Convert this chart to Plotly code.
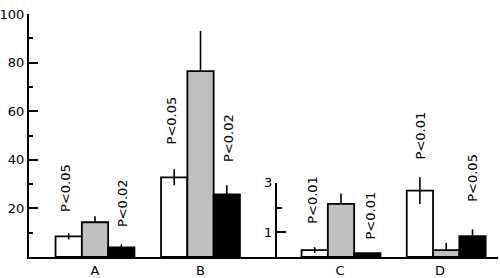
import plotly.graph_objects as go

# ---- data ----
categories = ["A", "B", "C", "D"]
white = [8.5, 32.8, 0.28, 2.69]
white_err = [1.3, 3.3, 0.12, 0.54]
gray = [14.3, 76.5, 2.15, 0.28]
gray_err = [2.5, 16.5, 0.42, 0.29]
black = [4.0, 25.8, 0.16, 0.84]
black_err = [1.2, 3.7, 0.0, 0.28]

p_text = ["P<0.05", "P<0.02", "P<0.05", "P<0.02", "P<0.01", "P<0.01", "P<0.01", "P<0.05"]
p_cat = ["A", "A", "B", "B", "C", "C", "D", "D"]
p_series = ["white", "black", "white", "black", "white", "black", "white", "black"]
p_y = [28.3, 22.3, 56.3, 48.9, 23.4, 17.2, 50.0, 32.4]   # label centre, primary-axis units
p_dx = [-3, 2, -3, 1, -3, 3, 1, 0]

# ---- layout helpers (positions, not data) ----
group_x = [95, 200.5, 341, 446.2]
label_x = [95, 200.5, 340, 440]
bw = 26.3
FONT = "DejaVu Sans"

series = [
    ("white", white, white_err, True, "white", -1.5),
    ("gray", gray, gray_err, False, "#c0c0c0", -0.5),
    ("black", black, black_err, False, "black", 0.5),
]

fig = go.Figure()
for name, vals, errs, sym, color, off in series:
    for idx, yax in (((0, 1), "y"), ((2, 3), "y2")):
        fig.add_trace(go.Bar(
            x=[group_x[i] for i in idx],
            y=[vals[i] for i in idx],
            width=bw, offset=off * bw,
            marker=dict(color=color, line=dict(color="black", width=1.8)),
            error_y=dict(type="data", array=[errs[i] for i in idx],
                         arrayminus=[errs[i] if sym else 0 for i in idx],
                         symmetric=False, color="black", thickness=1.6, width=0),
            xaxis="x", yaxis=yax, showlegend=False, hoverinfo="skip",
        ))

# dummy trace to materialise the short secondary axis (own hidden x axis)
fig.add_trace(go.Scatter(x=[None], y=[None], xaxis="x2", yaxis="y3",
                         showlegend=False, hoverinfo="skip"))

offs = {"white": -1, "gray": 0, "black": 1}
for t, c, s, yv, dx in zip(p_text, p_cat, p_series, p_y, p_dx):
    xc = group_x[categories.index(c)] + offs[s] * bw + dx
    fig.add_annotation(x=xc, y=yv, xref="x", yref="y", text=t, textangle=-90,
                       showarrow=False, xanchor="center", yanchor="middle",
                       font=dict(family=FONT, size=13, color="black"))

L, R, T, B = 29, 2, 14, 21
W, H = 500, 278
plot_w = W - L - R
plot_h = H - T - B
px_per_unit2 = 24.7
y2_top = plot_h / px_per_unit2

fig.update_layout(
    width=W, height=H, margin=dict(l=L, r=R, t=T, b=B),
    paper_bgcolor="white", plot_bgcolor="rgba(0,0,0,0)",
    barmode="overlay",
    font=dict(family=FONT, size=13, color="black"),
    xaxis=dict(range=[L, W - R], showgrid=False, zeroline=False,
               showline=True, linecolor="black", linewidth=2,
               tickvals=label_x, ticktext=categories, ticks="",
               automargin=False,
               tickfont=dict(family=FONT, size=13)),
    xaxis2=dict(range=[L, W - R], anchor="y3", visible=False),
    yaxis=dict(range=[0, 100], showgrid=False, zeroline=False,
               showline=True, linecolor="black", linewidth=2,
               tickvals=[20, 40, 60, 80, 100], ticks="inside", ticklen=9,
               tickwidth=2, tickcolor="black", automargin=False,
               minor=dict(tickvals=[10, 30, 50, 70, 90], ticks="inside",
                          ticklen=4, tickwidth=2, tickcolor="black"),
               tickfont=dict(family=FONT, size=13)),
    yaxis2=dict(range=[0, y2_top], overlaying="y", visible=False),
    yaxis3=dict(range=[0, 3], domain=[0, 3 * px_per_unit2 / plot_h],
                anchor="free", position=(276 - L) / plot_w, side="left",
                showgrid=False, zeroline=False, showline=True,
                linecolor="black", linewidth=2, automargin=False,
                tickvals=[1, 3], ticks="inside", ticklen=9, tickwidth=2,
                tickcolor="black",
                minor=dict(tickvals=[2], ticks="inside", ticklen=5,
                           tickwidth=2, tickcolor="black"),
                tickfont=dict(family=FONT, size=13)),
)

fig.write_html("out.html")
